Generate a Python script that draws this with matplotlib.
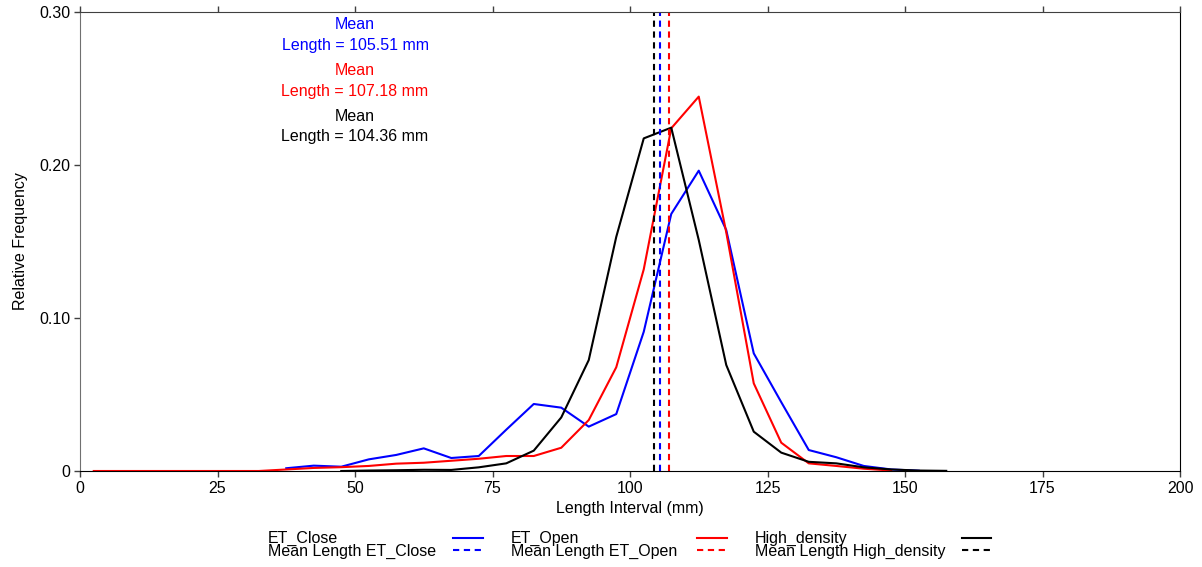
import matplotlib
matplotlib.use("Agg")
import matplotlib.pyplot as plt
from matplotlib.lines import Line2D
from matplotlib.ticker import FuncFormatter

plt.rcParams['font.family'] = ['Liberation Sans', 'DejaVu Sans']

# length interval midpoints (mm) and relative frequencies
close_len = [37.5, 42.5, 47.5, 52.5, 57.5, 62.5, 67.5, 72.5, 77.5, 82.5, 87.5, 92.5,
             97.5, 102.5, 107.5, 112.5, 117.5, 122.5, 127.5, 132.5, 137.5, 142.5,
             147.5, 152.5]
close_freq = [0.0018, 0.0035, 0.0028, 0.0076, 0.0105, 0.0148, 0.0085, 0.0098, 0.027,
              0.0438, 0.0414, 0.029, 0.0372, 0.091, 0.168, 0.1963, 0.1575, 0.0769,
              0.045, 0.0137, 0.009, 0.0033, 0.001, 0.0002]

open_len = [2.5, 7.5, 12.5, 17.5, 22.5, 27.5, 32.5, 37.5, 42.5, 47.5, 52.5, 57.5,
            62.5, 67.5, 72.5, 77.5, 82.5, 87.5, 92.5, 97.5, 102.5, 107.5, 112.5,
            117.5, 122.5, 127.5, 132.5, 137.5, 142.5, 147.5]
open_freq = [0, 0, 0, 0, 0, 0, 0, 0.001, 0.002, 0.0025, 0.0033, 0.0048, 0.0054,
             0.0067, 0.008, 0.0098, 0.0098, 0.0152, 0.0333, 0.0678, 0.1318, 0.224,
             0.2447, 0.156, 0.0573, 0.0185, 0.005, 0.0033, 0.0015, 0.0003]

high_len = [47.5, 52.5, 57.5, 62.5, 67.5, 72.5, 77.5, 82.5, 87.5, 92.5, 97.5, 102.5,
            107.5, 112.5, 117.5, 122.5, 127.5, 132.5, 137.5, 142.5, 147.5, 152.5,
            157.5]
high_freq = [0, 0.0003, 0.0005, 0.0008, 0.0007, 0.0024, 0.005, 0.0133, 0.035, 0.0725,
             0.153, 0.2174, 0.2244, 0.151, 0.0693, 0.0257, 0.012, 0.006, 0.005,
             0.0024, 0.001, 0.0003, 0.0001]

names = ["ET_Close", "ET_Open", "High_density"]
means = [105.51, 107.18, 104.36]
colors = ["#0000ff", "#ff0000", "#000000"]

W, H = 1202, 567


def fx(px):
    return px / W


def fy(py):
    return 1 - py / H


fig = plt.figure(figsize=(W / 100, H / 100), dpi=100)
ax = fig.add_axes([fx(80), fy(471), fx(1180) - fx(80), fy(12) - fy(471)])

series = [(close_len, close_freq), (open_len, open_freq), (high_len, high_freq)]
for (xs, ys), c in zip(series, colors):
    ax.plot(xs, ys, color=c, lw=1.5)

for m, c in zip(means, colors):
    ax.axvline(m, color=c, lw=1.5, dashes=(3, 2.2))

ax.set_xlim(0, 200)
ax.set_ylim(0, 0.30)
ax.set_xticks([0, 25, 50, 75, 100, 125, 150, 175, 200])
ax.set_yticks([0, 0.10, 0.20, 0.30])
ax.yaxis.set_major_formatter(FuncFormatter(lambda v, p: "0" if v == 0 else "%.2f" % v))
ax.tick_params(direction='out', length=4, width=1, labelsize=11.5, top=True,
               color='#404040', pad=3)
ax.set_xlabel("Length Interval (mm)", fontsize=11.5, labelpad=4)
ax.set_ylabel("Relative Frequency", fontsize=11.5, labelpad=8)
ax.spines['left'].set_color('#707070')
ax.spines['top'].set_color('#404040')
ax.spines['bottom'].set_color('#000000')
ax.spines['right'].set_color('#000000')

# mean annotations
text_y = [0.285, 0.2549, 0.2252]
for m, c, ty in zip(means, colors, text_y):
    ax.text(50, ty, "Mean\nLength = %.2f mm" % m, color=c, fontsize=11.5,
            ha='center', va='center', linespacing=1.45)

# legend built by hand: label on the left, line sample on the right
label_x = [268, 511, 755]
handle_x = [(453, 483), (697, 727), (962, 991)]
text_rows = [538, 551]
line_rows = [538, 550]
for name, c, lx, (h0, h1) in zip(names, colors, label_x, handle_x):
    fig.text(fx(lx), fy(text_rows[0]), name, fontsize=11.5, ha='left', va='center')
    fig.text(fx(lx), fy(text_rows[1]), "Mean Length " + name, fontsize=11.5,
             ha='left', va='center')
    fig.add_artist(Line2D([fx(h0), fx(h1)], [fy(line_rows[0])] * 2, color=c, lw=1.5,
                          transform=fig.transFigure))
    fig.add_artist(Line2D([fx(h0), fx(h1)], [fy(line_rows[1])] * 2, color=c, lw=1.5,
                          dashes=(3, 2.2), transform=fig.transFigure))

fig.savefig("out.png", dpi=100)
